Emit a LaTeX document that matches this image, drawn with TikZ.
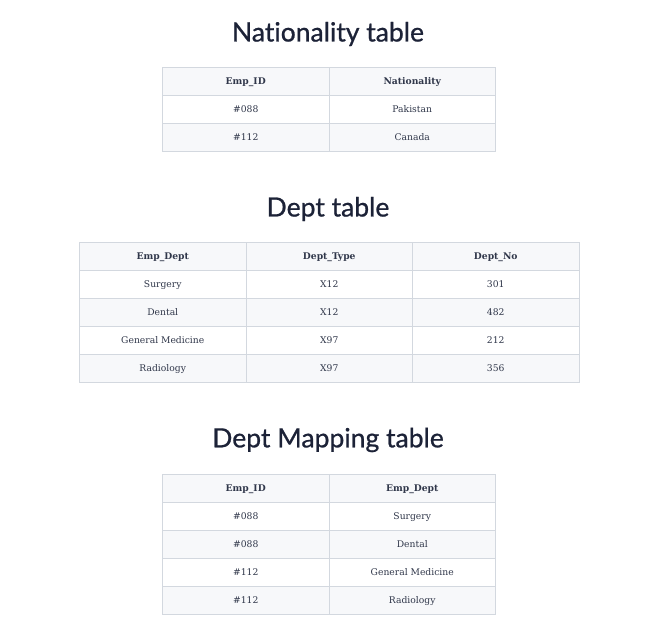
\documentclass[tikz,border=0pt]{standalone}
\usepackage{fontspec}
\usepackage{xcolor}
\setmainfont{DejaVu Serif}
\newfontfamily\titlefont[FakeBold=0.8,Ligatures={NoCommon}]{Lato}
\definecolor{titlecol}{HTML}{1C2237}
\definecolor{textcol}{HTML}{30374A}
\definecolor{gridcol}{HTML}{D3D8DF}
\definecolor{stripe}{HTML}{F7F8FA}
\newcommand\tablefont{\fontsize{9.2}{11}\selectfont}

\begin{document}
\begin{tikzpicture}[x=1pt,y=-1pt,
    cell/.style={draw=gridcol, line width=1pt, minimum width=166.5pt, minimum height=28pt,
      inner sep=0pt, text height=1.55ex, text depth=0.3ex, text=textcol, font=\tablefont,
      anchor=north west},
    headcell/.style={cell, fill=stripe, font=\tablefont\bfseries},
    oddrow/.style={cell, fill=white},
    evenrow/.style={cell, fill=stripe},
    tabtitle/.style={font=\titlefont\fontsize{26.5}{32}\selectfont, text=titlecol}]
    \newcommand\cw{166.5}
    \newcommand\rh{28}

    \fill[white] (0,0) rectangle (660,639);
    \useasboundingbox (0,0) rectangle (660,639);

    % Nationality table
    \node[tabtitle] (nattitle) at (328,34) {Nationality table};
    \foreach \c/\txt in {0/Emp\_ID, 1/Nationality}
        \node[headcell] (nat-0-\c) at (162+\c*\cw, 67) {\txt};
    \foreach \r/\rs/\a/\b in {1/oddrow/\#088/Pakistan, 2/evenrow/\#112/Canada} {
        \node[\rs] (nat-\r-0) at (162, 67+\r*\rh) {\a};
        \node[\rs] (nat-\r-1) at (162+\cw, 67+\r*\rh) {\b};
    }

    % Dept table
    \node[tabtitle] (depttitle) at (328,209) {Dept table};
    \foreach \c/\txt in {0/Emp\_Dept, 1/Dept\_Type, 2/Dept\_No}
        \node[headcell] (dept-0-\c) at (79+\c*\cw, 242) {\txt};
    \foreach \r/\rs/\a/\b/\n in {1/oddrow/Surgery/X12/301, 2/evenrow/Dental/X12/482,
        3/oddrow/General Medicine/X97/212, 4/evenrow/Radiology/X97/356} {
        \node[\rs] (dept-\r-0) at (79, 242+\r*\rh) {\a};
        \node[\rs] (dept-\r-1) at (79+\cw, 242+\r*\rh) {\b};
        \node[\rs] (dept-\r-2) at (79+2*\cw, 242+\r*\rh) {\n};
    }

    % Dept Mapping table
    \node[tabtitle] (maptitle) at (328,440) {Dept Mapping table};
    \foreach \c/\txt in {0/Emp\_ID, 1/Emp\_Dept}
        \node[headcell] (map-0-\c) at (162+\c*\cw, 474) {\txt};
    \foreach \r/\rs/\a/\b in {1/oddrow/\#088/Surgery, 2/evenrow/\#088/Dental,
        3/oddrow/\#112/General Medicine, 4/evenrow/\#112/Radiology} {
        \node[\rs] (map-\r-0) at (162, 474+\r*\rh) {\a};
        \node[\rs] (map-\r-1) at (162+\cw, 474+\r*\rh) {\b};
    }
\end{tikzpicture}
\end{document}
